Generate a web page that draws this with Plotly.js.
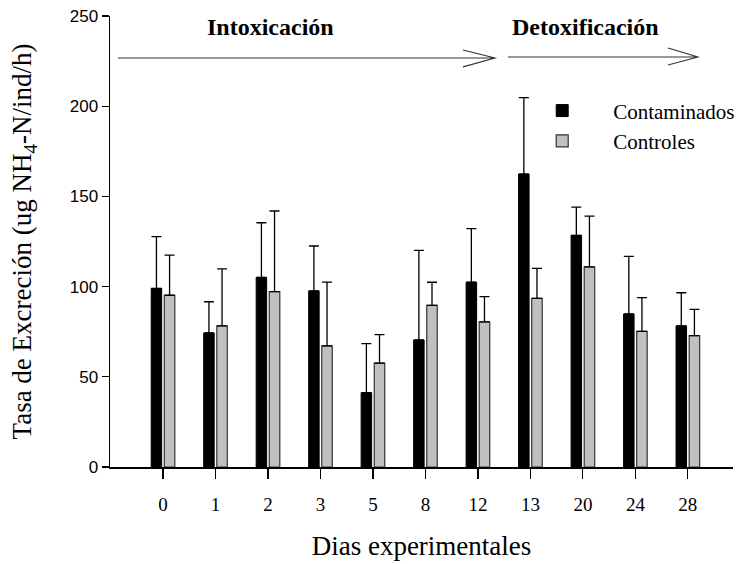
<!DOCTYPE html>
<html>
<head>
<meta charset="utf-8">
<script src="https://cdn.plot.ly/plotly-3.0.1.min.js"></script>
<style>html,body{margin:0;padding:0;background:#fff;}#chart{width:740px;height:564px;}</style>
</head>
<body>
<div id="chart"></div>
<script>
// Data
const dias = ["0", "1", "2", "3", "5", "8", "12", "13", "20", "24", "28"];
const contaminados = [99, 74.3, 105.1, 97.6, 41.2, 70.4, 102.4, 162.4, 128.4, 84.8, 78.2];
const contaminadosErr = [28.7, 17.3, 30.3, 24.9, 27.2, 49.7, 29.7, 42.3, 15.7, 32.0, 18.4];
const controles = [95.2, 78.2, 97.2, 67.1, 57.6, 89.6, 80.4, 93.5, 110.9, 75.2, 72.8];
const controlesErr = [22.3, 31.6, 44.7, 35.4, 15.8, 12.8, 14.0, 16.6, 28.2, 18.7, 14.6];
const zeros = dias.map(() => 0);
const yTicks = [0, 50, 100, 150, 200, 250];

const serif = "'Liberation Serif', 'Times New Roman', serif";
const sans = "'Liberation Sans', Arial, sans-serif";

const traces = [
  {
    type: "bar", name: "Contaminados", x: dias, y: contaminados,
    marker: {color: "#000000", line: {color: "#000000", width: 1}},
    error_y: {type: "data", symmetric: false, array: contaminadosErr, arrayminus: zeros,
              color: "#000000", thickness: 1.3, width: 5}
  },
  {
    type: "bar", name: "Controles", x: dias, y: controles,
    marker: {color: "#c0c0c0", line: {color: "#333333", width: 1.2}},
    error_y: {type: "data", symmetric: false, array: controlesErr, arrayminus: zeros,
              color: "#000000", thickness: 1.3, width: 5}
  }
];

const layout = {
  width: 740, height: 564,
  margin: {l: 110, r: 7, t: 16, b: 97, autoexpand: false},
  paper_bgcolor: "#ffffff", plot_bgcolor: "#ffffff",
  barmode: "group", bargap: 0.5, bargroupgap: 0.2,
  showlegend: true,
  legend: {
    x: 0.644, y: 0.835, xanchor: "left", yanchor: "top",
    itemwidth: 92, bgcolor: "rgba(0,0,0,0)",
    font: {family: serif, size: 21, color: "#000"},
    tracegroupgap: 0
  },
  xaxis: {
    type: "category", range: [-1.01, 10.86], automargin: false,
    showline: true, linecolor: "#000", linewidth: 1.5,
    ticks: "outside", ticklen: 10, tickwidth: 1.2, tickcolor: "#000",
    ticklabelstandoff: 10,
    tickfont: {family: serif, size: 19, color: "#000"},
    showgrid: false, zeroline: false,
    title: {text: "Dias experimentales", font: {family: serif, size: 27, color: "#000"}, standoff: 22}
  },
  yaxis: {
    range: [0, 250], tickvals: yTicks, ticktext: yTicks.map(String), automargin: false,
    showline: true, linecolor: "#000", linewidth: 1.5,
    ticks: "outside", ticklen: 7, tickwidth: 1.2, tickcolor: "#000",
    tickfont: {family: sans, size: 17, color: "#000"},
    showgrid: false, zeroline: false,
    title: {text: "Tasa de Excreción (ug NH<sub>4</sub>-N/ind/h)", font: {family: serif, size: 27, color: "#000"}, standoff: 30}
  },
  annotations: [
    {text: "<b>Intoxicación</b>", xref: "paper", yref: "y", x: 0.258, y: 243.9,
     xanchor: "center", yanchor: "middle",
     showarrow: false, font: {family: serif, size: 24, color: "#000"}},
    {text: "<b>Detoxificación</b>", xref: "paper", yref: "y", x: 0.764, y: 243.9,
     xanchor: "center", yanchor: "middle",
     showarrow: false, font: {family: serif, size: 24, color: "#000"}}
  ],
  shapes: [
    {type: "path", xref: "paper", yref: "y",
     path: "M0.0128,226.7 L0.618,226.7 M0.5666,231.2 L0.618,226.7 L0.5666,221.8",
     line: {color: "#333", width: 1.1}},
    {type: "path", xref: "paper", yref: "y",
     path: "M0.6388,227.3 L0.9438,227.3 M0.8957,232.3 L0.9438,227.3 L0.8957,222.8",
     line: {color: "#333", width: 1.1}}
  ]
};

Plotly.newPlot("chart", traces, layout, {displayModeBar: false, staticPlot: true});
</script>
</body>
</html>
